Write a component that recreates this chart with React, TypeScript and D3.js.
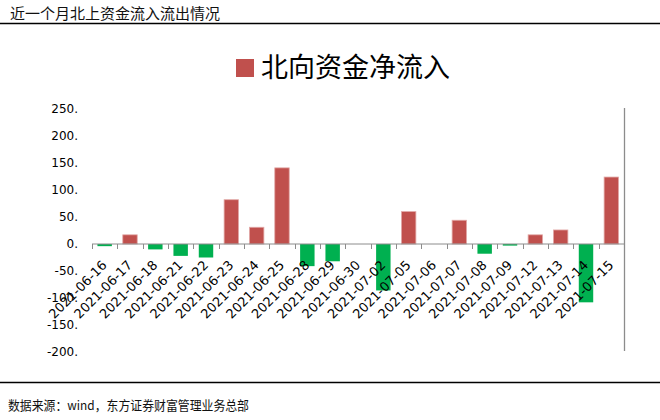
import * as d3 from "d3";

const dates = [
  "2021-06-16", "2021-06-17", "2021-06-18", "2021-06-21", "2021-06-22",
  "2021-06-23", "2021-06-24", "2021-06-25", "2021-06-28", "2021-06-29",
  "2021-06-30", "2021-07-02", "2021-07-05", "2021-07-06", "2021-07-07",
  "2021-07-08", "2021-07-09", "2021-07-12", "2021-07-13", "2021-07-14",
  "2021-07-15",
];
const netInflow = [
  -4, 17, -10, -22, -25, 82, 31, 141, -41, -32, 0, -86, 60, 0, 44, -18, -3,
  17, 26, -108, 124,
];
const yTicks = [250, 200, 150, 100, 50, 0, -50, -100, -150, -200];

const title = "近一个月北上资金流入流出情况";
const seriesName = "北向资金净流入";
const source = "数据来源：wind，东方证券财富管理业务总部";

const RED = "#C0504D";
const GREEN = "#00B050";
const AXIS = "#8c8c8c";
const CJK = "'Noto Sans CJK SC', sans-serif";
const NUM = "'DejaVu Sans', sans-serif";

export default function App() {
  const x = d3.scaleBand<string>().domain(dates).range([92, 624]).paddingInner(0.43).paddingOuter(0.215);
  const y = d3.scaleLinear().domain([-200, 250]).range([352, 109]);
  const y0 = y(0);
  const step = x.step();

  return (
    <svg width={660} height={420} style={{ position: "absolute", left: 0, top: 0 }}>
      <rect width={660} height={420} fill="#fff" />
      <text x={10} y={19} fontFamily={CJK} fontSize={15} fill="#111">{title}</text>
      <line x1={0} x2={660} y1={23.5} y2={23.5} stroke="#000" strokeWidth={1.5} />

      {/* legend */}
      <rect x={236} y={59} width={18} height={18} fill={RED} />
      <text x={261} y={77} fontFamily={CJK} fontSize={27} fill="#000">{seriesName}</text>

      {/* y labels */}
      {yTicks.map((t) => (
        <text key={t} x={78} y={y(t)} dy="0.35em" textAnchor="end" fontFamily={NUM} fontSize={12} fill="#000">
          {`${t}.`}
        </text>
      ))}

      {/* bars */}
      {dates.map((d, i) => {
        const v = netInflow[i];
        if (v === 0) return null;
        const top = Math.min(y(v), y0);
        const h = Math.abs(y(v) - y0);
        return (
          <rect key={d} x={x(d)} y={top} width={x.bandwidth()} height={h}
            fill={v > 0 ? RED : GREEN}
            stroke={v > 0 ? "#e2a9a7" : "none"} strokeWidth={v > 0 ? 0.8 : 0} />
        );
      })}

      {/* x axis */}
      <line x1={92} x2={624} y1={y0} y2={y0} stroke={AXIS} strokeWidth={1} />
      {d3.range(dates.length + 1).map((i) => {
        const tx = Math.round(92 + i * step) + 0.5;
        return <line key={i} x1={tx} x2={tx} y1={y0} y2={y0 + 5} stroke={AXIS} />;
      })}
      <line x1={624.5} x2={624.5} y1={108} y2={351} stroke={AXIS} strokeWidth={1.3} />

      {dates.map((d) => {
        const cx = (x(d) as number) + x.bandwidth() / 2 + 3;
        const cy = 266;
        return (
          <text key={d} x={cx} y={cy} textAnchor="end" transform={`rotate(-45 ${cx} ${cy})`}
            fontFamily={NUM} fontSize={13} fill="#000">
            {d}
          </text>
        );
      })}

      <line x1={0} x2={660} y1={382.5} y2={382.5} stroke="#000" strokeWidth={1.5} />
      <text x={8} y={410} fontFamily={CJK} fontSize={13} textLength={241} lengthAdjust="spacingAndGlyphs" fill="#111">
        {source}
      </text>
    </svg>
  );
}
